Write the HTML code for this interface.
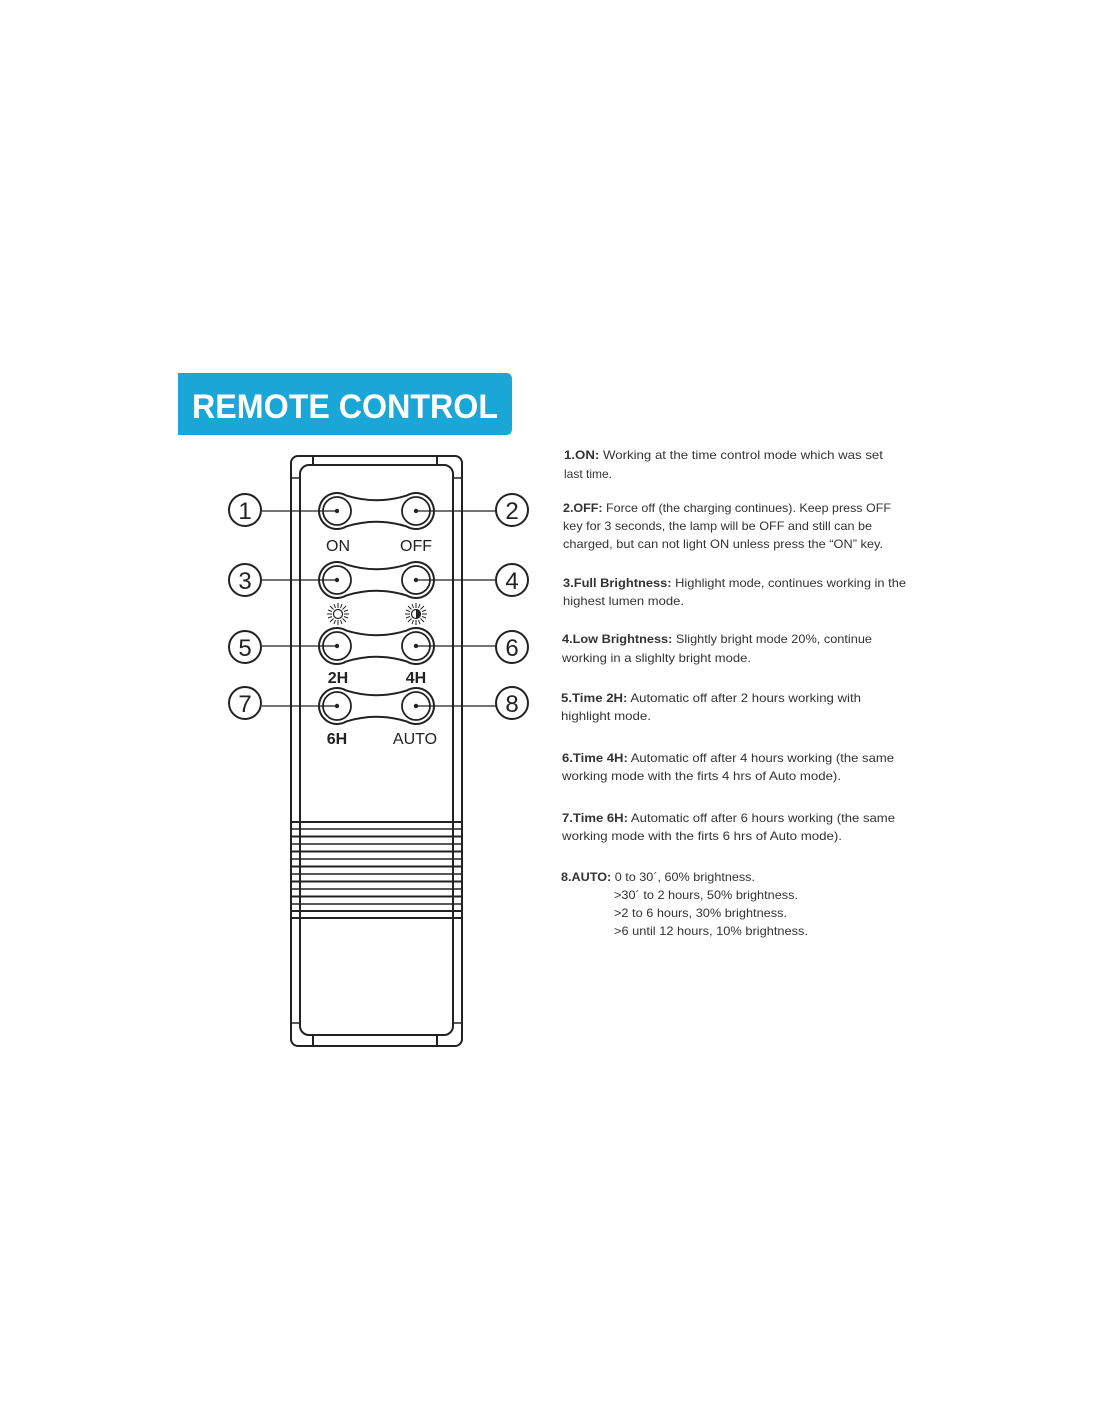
<!DOCTYPE html>
<html><head><meta charset="utf-8"><style>
html,body{margin:0;padding:0;background:#fff;}
body{width:1100px;height:1422px;position:relative;overflow:hidden;}
</style></head><body>
<svg width="1100" height="1422" viewBox="0 0 1100 1422" xmlns="http://www.w3.org/2000/svg" style="position:absolute;left:0;top:0">
<defs>
<g id="bone">
<path d="M346,-15.6 Q376.5,-6 407,-15.6 A18 18 0 1 1 407,15.6 Q376.5,6 346,15.6 A18 18 0 1 1 346,-15.6 Z" fill="#fff" stroke="#222" stroke-width="2"/>
<circle cx="337" cy="0" r="14" fill="#fff" stroke="#222" stroke-width="1.8"/>
<circle cx="416" cy="0" r="14" fill="#fff" stroke="#222" stroke-width="1.8"/>
<circle cx="337" cy="0" r="2.2" fill="#222"/>
<circle cx="416" cy="0" r="2.2" fill="#222"/>
<line x1="262" y1="0" x2="337" y2="0" stroke="#222" stroke-width="1.2"/>
<line x1="416" y1="0" x2="496" y2="0" stroke="#222" stroke-width="1.2"/>
</g>
<g id="sun" stroke="#222" stroke-width="1">
<line x1="0" y1="-11" x2="0" y2="-6"/><line x1="0" y1="6" x2="0" y2="11"/>
<line x1="-11" y1="0" x2="-6" y2="0"/><line x1="6" y1="0" x2="11" y2="0"/>
<line x1="-8" y1="-8" x2="-4.5" y2="-4.5"/><line x1="8" y1="8" x2="4.5" y2="4.5"/>
<line x1="-8" y1="8" x2="-4.5" y2="4.5"/><line x1="8" y1="-8" x2="4.5" y2="-4.5"/>
<line x1="-4" y1="-10" x2="-2.5" y2="-6"/><line x1="4" y1="10" x2="2.5" y2="6"/>
<line x1="4" y1="-10" x2="2.5" y2="-6"/><line x1="-4" y1="10" x2="-2.5" y2="6"/>
<line x1="-10" y1="-4" x2="-6" y2="-2.5"/><line x1="10" y1="4" x2="6" y2="2.5"/>
<line x1="-10" y1="4" x2="-6" y2="2.5"/><line x1="10" y1="-4" x2="6" y2="-2.5"/>
</g>
</defs>

<path d="M178,373 H506 Q512,373 512,379 V429 Q512,435 506,435 H178 Z" fill="#1ba6d8"/>
<text x="345" y="418" text-anchor="middle" font-family="Liberation Sans, sans-serif" font-size="34" font-weight="bold" fill="#fff" textLength="306" lengthAdjust="spacingAndGlyphs">REMOTE CONTROL</text>

<rect x="291" y="456" width="171" height="590" rx="7" fill="#fff" stroke="#222" stroke-width="2"/>
<rect x="300" y="465" width="153" height="570" rx="9" fill="#fff" stroke="#222" stroke-width="2"/>
<line x1="313" y1="456" x2="313" y2="465" stroke="#222" stroke-width="2"/>
<line x1="437" y1="456" x2="437" y2="465" stroke="#222" stroke-width="2"/>
<line x1="313" y1="1035" x2="313" y2="1046" stroke="#222" stroke-width="2"/>
<line x1="437" y1="1035" x2="437" y2="1046" stroke="#222" stroke-width="2"/>
<line x1="291" y1="478" x2="300" y2="478" stroke="#222" stroke-width="1.5"/>
<line x1="453" y1="478" x2="462" y2="478" stroke="#222" stroke-width="1.5"/>
<line x1="291" y1="1023" x2="300" y2="1023" stroke="#222" stroke-width="1.5"/>
<line x1="453" y1="1023" x2="462" y2="1023" stroke="#222" stroke-width="1.5"/>

<g stroke="#222">
<line x1="291" x2="462" y1="822" y2="822" stroke-width="2"/>
<line x1="291" x2="462" y1="829" y2="829" stroke-width="1.5"/>
<line x1="291" x2="462" y1="836.5" y2="836.5" stroke-width="2"/>
<line x1="291" x2="462" y1="844" y2="844" stroke-width="1.5"/>
<line x1="291" x2="462" y1="851.5" y2="851.5" stroke-width="2"/>
<line x1="291" x2="462" y1="859" y2="859" stroke-width="1.5"/>
<line x1="291" x2="462" y1="866.5" y2="866.5" stroke-width="2"/>
<line x1="291" x2="462" y1="874" y2="874" stroke-width="1.5"/>
<line x1="291" x2="462" y1="881.5" y2="881.5" stroke-width="2"/>
<line x1="291" x2="462" y1="889" y2="889" stroke-width="1.5"/>
<line x1="291" x2="462" y1="896.5" y2="896.5" stroke-width="2"/>
<line x1="291" x2="462" y1="904" y2="904" stroke-width="1.5"/>
<line x1="291" x2="462" y1="911" y2="911" stroke-width="2"/>
<line x1="291" x2="462" y1="918" y2="918" stroke-width="2"/>
</g>

<use href="#bone" transform="translate(0,511)"/>
<use href="#bone" transform="translate(0,580)"/>
<use href="#bone" transform="translate(0,646)"/>
<use href="#bone" transform="translate(0,706)"/>

<g font-family="Liberation Sans, sans-serif" fill="#222" font-size="16" text-anchor="middle">
<text x="338" y="551">ON</text>
<text x="416" y="551">OFF</text>
<text x="338" y="683" font-weight="bold">2H</text>
<text x="416" y="683" font-weight="bold">4H</text>
<text x="337" y="744" font-weight="bold">6H</text>
<text x="415" y="744">AUTO</text>
</g>
<use href="#sun" transform="translate(338,614)"/>
<circle cx="338" cy="614" r="4.5" fill="#fff" stroke="#222" stroke-width="1.2"/>
<use href="#sun" transform="translate(416,614)"/>
<circle cx="416" cy="614" r="4.5" fill="#fff" stroke="#222" stroke-width="1.2"/>
<path d="M416,609.5 A4.5 4.5 0 0 1 416,618.5 Z" fill="#222"/>

<g font-family="Liberation Sans, sans-serif" font-size="24" fill="#222" text-anchor="middle">
<circle cx="245" cy="510" r="16" fill="#fff" stroke="#222" stroke-width="2"/><text x="245" y="519">1</text>
<circle cx="512" cy="510" r="16" fill="#fff" stroke="#222" stroke-width="2"/><text x="512" y="519">2</text>
<circle cx="245" cy="580" r="16" fill="#fff" stroke="#222" stroke-width="2"/><text x="245" y="589">3</text>
<circle cx="512" cy="580" r="16" fill="#fff" stroke="#222" stroke-width="2"/><text x="512" y="589">4</text>
<circle cx="245" cy="647" r="16" fill="#fff" stroke="#222" stroke-width="2"/><text x="245" y="656">5</text>
<circle cx="512" cy="647" r="16" fill="#fff" stroke="#222" stroke-width="2"/><text x="512" y="656">6</text>
<circle cx="245" cy="703" r="16" fill="#fff" stroke="#222" stroke-width="2"/><text x="245" y="712">7</text>
<circle cx="512" cy="703" r="16" fill="#fff" stroke="#222" stroke-width="2"/><text x="512" y="712">8</text>
</g>

<g font-family="Liberation Sans, sans-serif" font-size="12" fill="#333">
<text x="564" y="459" textLength="319" lengthAdjust="spacingAndGlyphs"><tspan font-weight="bold">1.ON:</tspan> Working at the  time control mode which was set</text>
<text x="564" y="478">last time.</text>
<text x="563" y="512" textLength="328" lengthAdjust="spacingAndGlyphs"><tspan font-weight="bold">2.OFF:</tspan> Force off (the charging continues). Keep press OFF</text>
<text x="563" y="530" textLength="309" lengthAdjust="spacingAndGlyphs">key for 3 seconds, the lamp will be OFF and still can be</text>
<text x="563" y="548" textLength="320" lengthAdjust="spacingAndGlyphs">charged, but can not light ON unless press the “ON” key.</text>
<text x="563" y="587" textLength="343" lengthAdjust="spacingAndGlyphs"><tspan font-weight="bold">3.Full Brightness:</tspan> Highlight mode, continues working in the</text>
<text x="563" y="605" textLength="121" lengthAdjust="spacingAndGlyphs">highest lumen mode.</text>
<text x="562" y="643" textLength="310" lengthAdjust="spacingAndGlyphs"><tspan font-weight="bold">4.Low Brightness:</tspan> Slightly bright mode 20%, continue</text>
<text x="562" y="662" textLength="189" lengthAdjust="spacingAndGlyphs">working in a slighlty bright mode.</text>
<text x="561" y="702" textLength="300" lengthAdjust="spacingAndGlyphs"><tspan font-weight="bold">5.Time 2H:</tspan> Automatic off after 2 hours working with</text>
<text x="561" y="720" textLength="90" lengthAdjust="spacingAndGlyphs">highlight mode.</text>
<text x="562" y="762" textLength="332" lengthAdjust="spacingAndGlyphs"><tspan font-weight="bold">6.Time 4H:</tspan> Automatic off after 4 hours working (the same</text>
<text x="562" y="780" textLength="279" lengthAdjust="spacingAndGlyphs">working mode with the firts 4 hrs of Auto mode).</text>
<text x="562" y="822" textLength="333" lengthAdjust="spacingAndGlyphs"><tspan font-weight="bold">7.Time 6H:</tspan> Automatic off after 6 hours working (the same</text>
<text x="562" y="840" textLength="280" lengthAdjust="spacingAndGlyphs">working mode with the firts 6 hrs of Auto mode).</text>
<text x="561" y="881" textLength="194" lengthAdjust="spacingAndGlyphs"><tspan font-weight="bold">8.AUTO:</tspan> 0 to 30´, 60% brightness.</text>
<text x="614" y="899" textLength="184" lengthAdjust="spacingAndGlyphs">&gt;30´ to 2 hours, 50% brightness.</text>
<text x="614" y="917" textLength="173" lengthAdjust="spacingAndGlyphs">&gt;2 to 6 hours, 30% brightness.</text>
<text x="614" y="935" textLength="194" lengthAdjust="spacingAndGlyphs">&gt;6 until 12 hours, 10% brightness.</text>
</g>
</svg>
</body></html>
